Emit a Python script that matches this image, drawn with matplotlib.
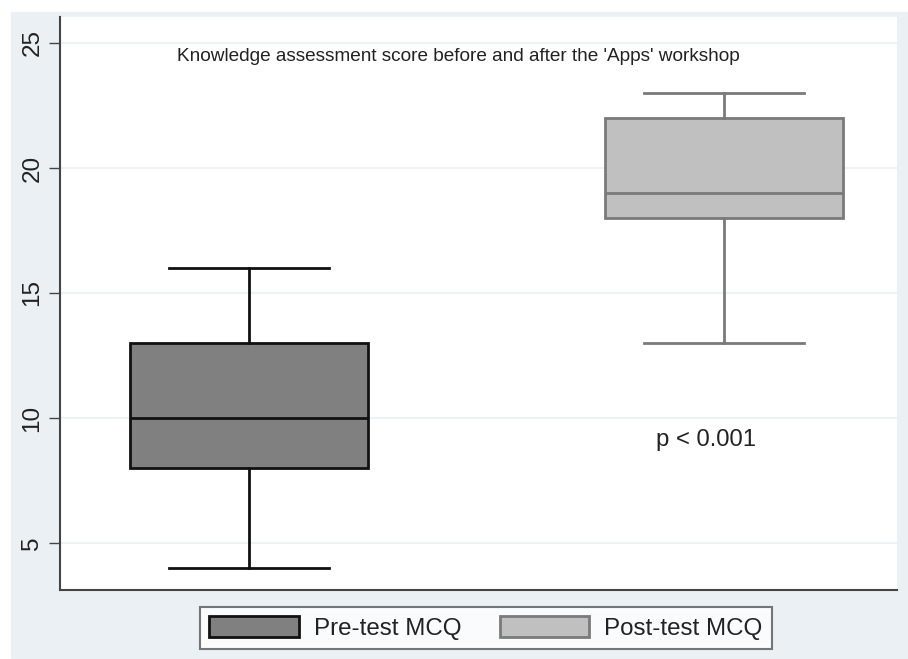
import matplotlib
matplotlib.use("Agg")
import matplotlib.pyplot as plt
from matplotlib.patches import Rectangle, Patch

plt.rcParams["font.family"] = ["Liberation Sans", "DejaVu Sans"]

# Box summary values
groups = ["Pre-test MCQ", "Post-test MCQ"]
whislo = [4, 13]
q1 = [8, 18]
med = [10, 19]
q3 = [13, 22]
whishi = [16, 23]

yticks = [5, 10, 15, 20, 25]
title = "Knowledge assessment score before and after the 'Apps' workshop"
p_text = "p < 0.001"

FILL = ["#808080", "#c0c0c0"]
EDGE = ["#111111", "#7a7a7a"]
BG = "#eaf0f4"

fig = plt.figure(figsize=(9.08, 6.59), dpi=100, facecolor="white")
fig.patches.append(Rectangle((11 / 908, 1 / 659), 1, 646 / 659,
                             transform=fig.transFigure, color=BG, zorder=-1))

ax = fig.add_axes([60 / 908, 69 / 659, 837 / 908, 573 / 659])
ax.set_facecolor("white")

stats = []
for i, g in enumerate(groups):
    stats.append({"label": g, "whislo": whislo[i], "q1": q1[i], "med": med[i],
                  "q3": q3[i], "whishi": whishi[i], "fliers": []})

for i, s in enumerate(stats):
    ax.bxp([s], positions=[i + 1], widths=0.5, patch_artist=True,
           showfliers=False,
           boxprops=dict(facecolor=FILL[i], edgecolor=EDGE[i], linewidth=2),
           medianprops=dict(color=EDGE[i], linewidth=2),
           whiskerprops=dict(color=EDGE[i], linewidth=2),
           capprops=dict(color=EDGE[i], linewidth=2),
           capwidths=0.337)

ax.set_xlim(0.602, 2.364)
ax.set_ylim(3.12, 26.04)
ax.set_yticks(yticks)
ax.set_yticklabels([str(t) for t in yticks], rotation=90, va="center",
                   fontsize=17.5, color="#222222")
ax.set_xticks([])
ax.tick_params(axis="y", length=8, width=1, color="#444444", pad=4)
ax.grid(axis="y", color="#eef2f4", linewidth=1.5)
ax.set_axisbelow(True)
for side in ["top", "right"]:
    ax.spines[side].set_visible(False)
for side in ["left", "bottom"]:
    ax.spines[side].set_color("#444444")
    ax.spines[side].set_linewidth(1.5)

ax.text(1.44, 24.44, title, ha="center", va="center", fontsize=13.7,
        color="#222222")
ax.text(1.962, 9.12, p_text, ha="center", va="center", fontsize=17.2,
        color="#222222")

handles = [Patch(facecolor=FILL[i], edgecolor=EDGE[i], linewidth=2)
           for i in range(len(groups))]
leg = fig.legend(handles, groups, loc="center", bbox_to_anchor=(486 / 908, 31 / 659),
                 ncol=2, fontsize=17.4, frameon=True, fancybox=False,
                 handlelength=3.7, handleheight=0.92, columnspacing=1.6,
                 handletextpad=0.62, borderpad=0.4, borderaxespad=0)
leg.get_frame().set_edgecolor("#555555")
leg.get_frame().set_linewidth(1.5)
for t in leg.get_texts():
    t.set_color("#222222")

fig.savefig("out.png", dpi=100, facecolor="white")
